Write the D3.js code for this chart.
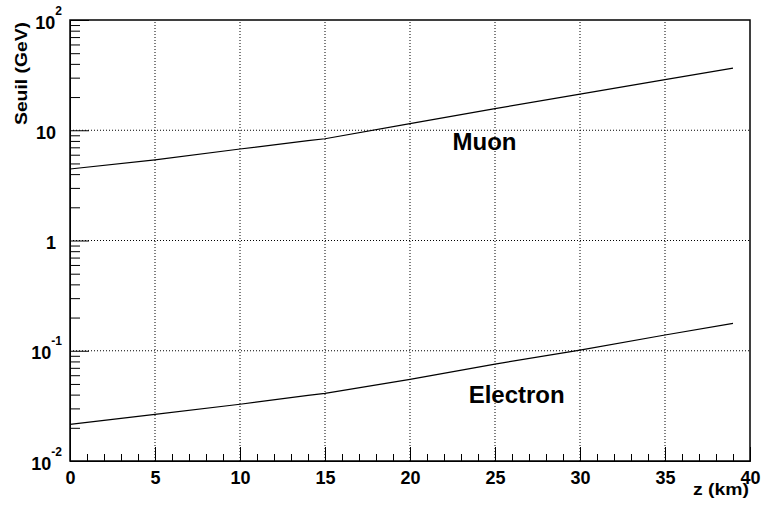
<!DOCTYPE html>
<html><head><meta charset="utf-8">
<script src="https://cdn.jsdelivr.net/npm/d3@7"></script>
<style>
html,body{margin:0;padding:0;background:#fff;}
text{font-family:"Liberation Sans",Arial,Helvetica,sans-serif;font-weight:bold;fill:#000;}
</style></head>
<body>
<svg id="chart" width="762" height="506"></svg>
<script>
// Data
const zKm      = [0, 5, 10, 14, 15, 20, 25, 30, 35, 39];
const muon     = [4.45, 5.38, 6.76, 8.04, 8.37, 11.5, 15.7, 21.3, 28.8, 36.6];
const electron = [0.0215, 0.0265, 0.0327, 0.0393, 0.0411, 0.0551, 0.0757, 0.1015, 0.139, 0.177];
const xMajorTicks = [0, 5, 10, 15, 20, 25, 30, 35, 40];
const yMajorTicks = [0.01, 0.1, 1, 10, 100];
const yTickBase   = ["10", "10", "1", "10", "10"];
const yTickExp    = ["-2", "-1", "", "", "2"];
const seriesNames = ["Muon", "Electron"];

const svg = d3.select("#chart");
const L = 70, R = 750, T = 20, B = 461;
const x = d3.scaleLinear().domain([0, 40]).range([L, R]);
const y = d3.scaleLog().domain([0.01, 100]).range([B, T]);

// grid
const grid = svg.append("g").attr("stroke", "#000").attr("stroke-width", 1)
  .attr("stroke-dasharray", "1,2").attr("fill", "none");
xMajorTicks.filter(v => v > 0 && v < 40).forEach(v => {
  grid.append("line").attr("x1", x(v)).attr("x2", x(v)).attr("y1", B).attr("y2", T);
});
yMajorTicks.filter(v => v > 0.01 && v < 100).forEach(v => {
  grid.append("line").attr("x1", L).attr("x2", R).attr("y1", y(v)).attr("y2", y(v));
});

// x axis
const xMinor = d3.range(0, 41).filter(v => v % 5 !== 0);
const gx = svg.append("g").attr("transform", `translate(0,${B})`)
  .call(d3.axisBottom(x).tickValues(xMajorTicks).tickSize(-14).tickPadding(10).tickFormat(d3.format("d")));
gx.selectAll("text").attr("font-size", 18).style("font-family", "Liberation Sans, Arial, sans-serif").style("font-weight", "bold");
const gxm = svg.append("g").attr("transform", `translate(0,${B})`)
  .call(d3.axisBottom(x).tickValues(xMinor).tickSize(-7).tickFormat(""));
gxm.select(".domain").remove();

// y axis
const yMinor = [];
[0.01, 0.1, 1, 10].forEach(d => { for (let k = 2; k <= 9; k++) yMinor.push(d * k); });
const gy = svg.append("g").attr("transform", `translate(${L},0)`)
  .call(d3.axisLeft(y).tickValues(yMajorTicks).tickSize(-19).tickFormat(""));
const gym = svg.append("g").attr("transform", `translate(${L},0)`)
  .call(d3.axisLeft(y).tickValues(yMinor).tickSize(-10).tickFormat(""));
gym.select(".domain").remove();
svg.selectAll(".tick line").attr("stroke", "#000");

// y tick labels with superscripts
yMajorTicks.forEach((v, i) => {
  const t = svg.append("text").attr("text-anchor", "end").attr("font-size", 18)
    .attr("x", yTickExp[i] ? 62 : 56).attr("y", y(v) + 8.5);
  t.append("tspan").text(yTickBase[i]);
  if (yTickExp[i]) {
    t.append("tspan").attr("font-size", 12).attr("dy", -14).text(yTickExp[i]);
  }
});

// frame
svg.append("rect").attr("x", L).attr("y", T).attr("width", R - L).attr("height", B - T)
  .attr("fill", "none").attr("stroke", "#000").attr("stroke-width", 1.5);

// curves
const line = d3.line().x((d, i) => x(zKm[i])).y(d => y(d));
[muon, electron].forEach(s => {
  svg.append("path").datum(s).attr("d", line).attr("fill", "none")
    .attr("stroke", "#000").attr("stroke-width", 1.2);
});

// series labels
svg.append("text").attr("x", x(22.5)).attr("y", 150).attr("font-size", 24).text(seriesNames[0]);
svg.append("text").attr("x", x(23.45)).attr("y", 403).attr("font-size", 24).text(seriesNames[1]);

// axis titles
svg.append("text").attr("text-anchor", "end").attr("x", 749).attr("y", 495)
  .attr("font-size", 16).attr("textLength", 56).attr("lengthAdjust", "spacingAndGlyphs").text("z (km)");
svg.append("text").attr("text-anchor", "end")
  .attr("transform", "translate(27,22) rotate(-90)")
  .attr("font-size", 16).attr("textLength", 103).attr("lengthAdjust", "spacingAndGlyphs").text("Seuil (GeV)");
</script>
</body></html>
